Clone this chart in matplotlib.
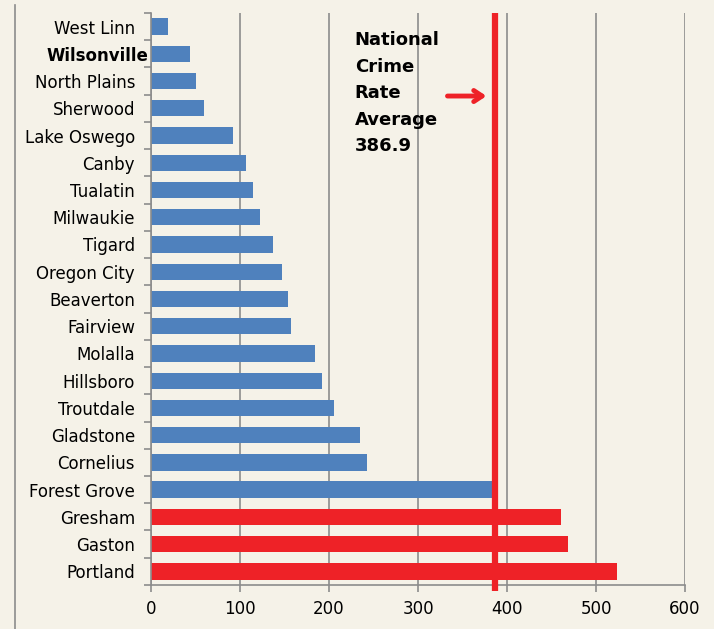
import matplotlib
matplotlib.use('Agg')
import matplotlib.pyplot as plt
import matplotlib.transforms as mtransforms
from matplotlib.lines import Line2D

cities = ['West Linn', 'Wilsonville', 'North Plains', 'Sherwood', 'Lake Oswego', 'Canby',
          'Tualatin', 'Milwaukie', 'Tigard', 'Oregon City', 'Beaverton', 'Fairview',
          'Molalla', 'Hillsboro', 'Troutdale', 'Gladstone', 'Cornelius', 'Forest Grove',
          'Gresham', 'Gaston', 'Portland']
rates = [19, 44, 50, 60, 92, 107, 115, 122, 137, 147, 154, 157,
         184, 192, 206, 235, 243, 385, 461, 468, 524]
national_avg = 386.9
xticks = [0, 100, 200, 300, 400, 500, 600]

bg = '#F5F2E8'
blue = '#4F81BD'
red = '#EE2227'

colors = [red if r > national_avg else blue for r in rates]

fig = plt.figure(figsize=(7.14, 6.29), dpi=100, facecolor=bg)
ax = fig.add_axes([0.2115, 0.07, 0.7479, 0.9094], facecolor=bg)

ypos = list(range(len(cities)))
ax.barh(ypos, rates, height=0.6, color=colors, zorder=2)
ax.set_ylim(len(cities) - 0.5, -0.5)
ax.set_xlim(0, 600)

ax.set_xticks(xticks)
ax.set_xticklabels([str(t) for t in xticks], fontsize=12)
ax.grid(axis='x', color='#8C8C8C', linewidth=1.2, zorder=1)
ax.grid(axis='y', visible=False)

ax.set_yticks(ypos)
ax.set_yticklabels(cities, fontsize=12)
ax.set_yticks([i - 0.5 for i in range(len(cities) + 1)], minor=True)
ax.tick_params(axis='y', which='major', length=0, pad=11.5)
ax.tick_params(axis='y', which='minor', length=5, color='#8C8C8C', width=1.2)
ax.tick_params(axis='x', length=5, color='#8C8C8C', width=1.2, pad=6)

for lab in ax.get_yticklabels():
    if lab.get_text() == 'Wilsonville':
        lab.set_fontweight('bold')
        lab.set_transform(lab.get_transform() +
                          mtransforms.ScaledTranslation(13 / 100, 0, fig.dpi_scale_trans))

for s in ['top', 'right']:
    ax.spines[s].set_visible(False)
for s in ['left', 'bottom']:
    ax.spines[s].set_color('#8C8C8C')
    ax.spines[s].set_linewidth(1.2)

ax.axvline(national_avg, ymin=-0.01, ymax=1, color=red, linewidth=4.5, zorder=3,
           clip_on=False, solid_capstyle='butt')

ax.text(229, 0.18, 'National\nCrime\nRate\nAverage\n386.9', fontsize=13, fontweight='bold',
        va='top', ha='left', linespacing=1.6, zorder=4)
ax.annotate('', xy=(380, 2.55), xytext=(330, 2.55),
            arrowprops=dict(arrowstyle='->,head_length=0.6,head_width=0.4', color=red, lw=3.5),
            zorder=4)

fig.add_artist(Line2D([15 / 714, 15 / 714], [0, 1 - 5 / 629], transform=fig.transFigure,
                      color='#8C8C8C', linewidth=1.2))

fig.savefig('out.png', dpi=100, facecolor=bg)
